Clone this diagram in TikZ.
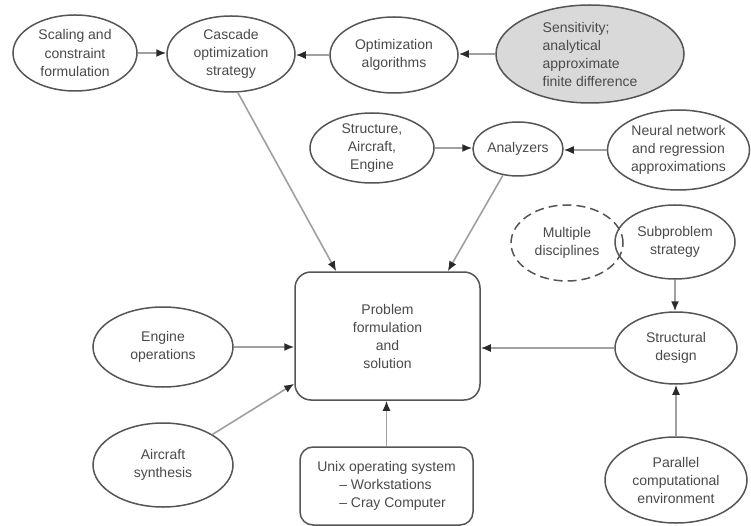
\documentclass[tikz,border=0pt]{standalone}
\usepackage{fontspec}
\setmainfont{Liberation Sans}
\usetikzlibrary{shapes.geometric,arrows.meta,calc}
\definecolor{edgec}{HTML}{555555}
\definecolor{txtc}{HTML}{4A4A4A}
\definecolor{linc}{HTML}{A0A0A0}
\definecolor{tipc}{HTML}{2A2A2A}
\definecolor{fillc}{HTML}{D9D9D9}
\begin{document}
\begin{tikzpicture}[x=1pt,y=-1pt,
  oval/.style={ellipse, draw=edgec, line width=1.5pt, inner sep=0pt, align=center,
    text=txtc, font=\fontsize{14}{18}\selectfont},
  rbox/.style={rectangle, rounded corners=14pt, draw=edgec, line width=1.5pt, inner sep=0pt,
    align=center, text=txtc, font=\fontsize{14}{18}\selectfont},
  conn/.style={draw=linc, line width=1.6pt, -{Latex[length=10pt,width=8pt,color=tipc]}}]
\fill[white] (0,0) rectangle (751,526);
\useasboundingbox (0,0) rectangle (751,526);

\node[oval, minimum width=124pt, minimum height=76pt] (scal) at (75,53) {Scaling and\\constraint\\formulation};
\node[oval, minimum width=128pt, minimum height=76pt] (cas) at (231,54) {Cascade\\optimization\\strategy};
\node[oval, minimum width=128pt, minimum height=76pt] (opt) at (394,55) {Optimization\\algorithms};
\node[oval, fill=fillc, minimum width=188pt, minimum height=98pt, align=left] (sen) at (590,54) {Sensitivity;\\analytical\\approximate\\finite difference};
\node[oval, minimum width=124pt, minimum height=70pt] (stru) at (372,148) {Structure,\\Aircraft,\\Engine};
\node[oval, minimum width=90pt, minimum height=54pt] (ana) at (518,149) {Analyzers};
\node[oval, minimum width=142pt, minimum height=80pt] (neu) at (678.5,150) {Neural network\\and regression\\approximations};
\node[oval, dash pattern=on 9pt off 5pt, minimum width=112pt, minimum height=76pt] (mul) at (567,243) {Multiple\\disciplines};
\node[oval, minimum width=120pt, minimum height=74pt] (sub) at (675,242) {Subproblem\\strategy};
\node[oval, minimum width=122pt, minimum height=72pt] (str) at (676,348) {Structural\\design};
\node[oval, minimum width=142pt, minimum height=86pt] (par) at (676,480) {Parallel\\computational\\environment};
\node[oval, minimum width=140pt, minimum height=80pt] (eng) at (163,347) {Engine\\operations};
\node[oval, minimum width=140pt, minimum height=84pt] (air) at (163,465) {Aircraft\\synthesis};
\node[rbox, minimum width=185pt, minimum height=128pt, rounded corners=16pt] (prob) at (387.5,336) {Problem\\formulation\\and\\solution};
\node[rbox, minimum width=173pt, minimum height=78pt, rounded corners=13pt, align=left] (unix) at (386.5,486) {Unix operating system\\\hspace*{22pt}-- Workstations\\\hspace*{22pt}-- Cray Computer};

\draw[conn] (scal.east) -- (scal.east -| cas.west);
\draw[conn] (opt.west) -- (opt.west -| cas.east);
\draw[conn] (sen.west) -- (sen.west -| opt.east);
\draw[conn] (stru.east) -- (stru.east -| ana.west);
\draw[conn] (neu.west) -- (neu.west -| ana.east);
\draw[conn] (cas.-80) -- ($(prob.north west)+(42,0)$);
\draw[conn] (ana) -- ($(prob.north east)+(-33,0)$);
\draw[conn] (eng.east) -- (eng.east -| prob.west);
\draw[conn] (air) -- ($(prob.south west)+(0,-17)$);
\draw[conn] (str.west) -- (str.west -| prob.east);
\draw[conn] (unix.north) -- (unix.north |- prob.south);
\draw[conn] (sub.south) -- (sub.south |- str.north);
\draw[conn] (par.north) -- (par.north |- str.south);
\end{tikzpicture}
\end{document}
